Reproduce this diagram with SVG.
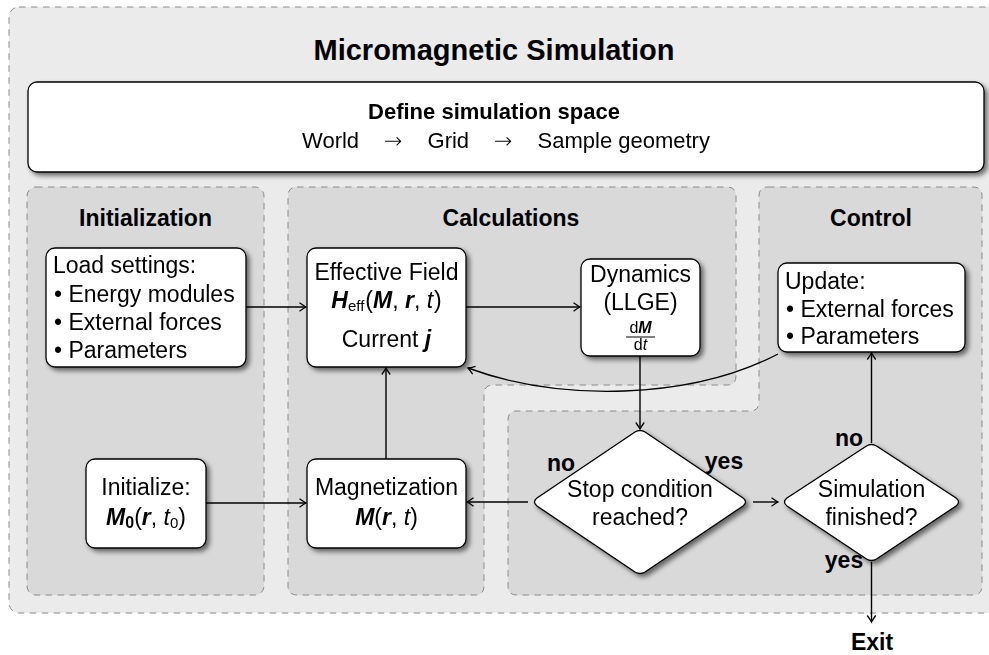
<svg xmlns="http://www.w3.org/2000/svg" width="989" height="655" viewBox="0 0 989 655">
<style>
text{font-family:"Liberation Sans",Arial,Helvetica,sans-serif;fill:#000}
.t{font-size:23px}
.b{font-weight:bold}
.c{text-anchor:middle}
.panel{fill:#d9d9d9;stroke:#8a8a8a;stroke-width:1;stroke-dasharray:6.5 5.5}
.outer{fill:#ebebeb;stroke:#8a8a8a;stroke-width:1;stroke-dasharray:6.5 5.5}
.node{fill:#fff;stroke:#000;stroke-width:1.3}
.bi{font-weight:bold;font-style:italic}
.it{font-style:italic}
.ar{font-family:"DejaVu Sans",sans-serif;font-weight:200}
.con{fill:none;stroke:#000;stroke-width:1.4}
</style>
<defs>
<filter id="sh" x="-20%" y="-20%" width="150%" height="150%">
<feGaussianBlur in="SourceAlpha" stdDeviation="2.5"/>
<feOffset dx="3" dy="3" result="o"/>
<feComponentTransfer><feFuncA type="linear" slope="0.55"/></feComponentTransfer>
<feMerge><feMergeNode/><feMergeNode in="SourceGraphic"/></feMerge>
</filter>
<marker id="ah" viewBox="-8 -6 10 12" refX="0" refY="0" markerWidth="10" markerHeight="12" orient="auto" markerUnits="userSpaceOnUse">
<path d="M-6.5,-4.2 Q-2,-1 0,0 Q-2,1 -6.5,4.2" fill="none" stroke="#000" stroke-width="1.3"/>
</marker>
</defs>

<g id="background">
<rect class="outer" x="9" y="7" width="992" height="606" rx="10"/>
<text class="b c" x="494" y="60" font-size="29">Micromagnetic Simulation</text>
</g>

<g id="panel-init">
<rect class="panel" x="27" y="187" width="237" height="408" rx="9"/>
<text class="t b c" x="145.5" y="226">Initialization</text>
</g>
<g id="panel-calc">
<path class="panel" d="M297,187 H727 Q736,187 736,196 V376 Q736,385 727,385 H493 Q484,385 484,394 V586 Q484,595 475,595 H297 Q288,595 288,586 V196 Q288,187 297,187 Z"/>
<text class="t b c" x="511" y="226">Calculations</text>
</g>
<g id="panel-control">
<path class="panel" d="M768,187 H973 Q982,187 982,196 V586 Q982,595 973,595 H517 Q508,595 508,586 V420 Q508,411 517,411 H750 Q759,411 759,402 V196 Q759,187 768,187 Z"/>
<text class="t b c" x="871" y="226">Control</text>
</g>

<g id="node-define" filter="url(#sh)">
<rect class="node" x="28" y="82" width="956" height="90" rx="9"/>
<text class="b c" x="494" y="119" font-size="22">Define simulation space</text>
<text class="c" x="506" y="148" font-size="22">World<tspan class="ar" dx="25">→</tspan><tspan dx="25">Grid</tspan><tspan class="ar" dx="25">→</tspan><tspan dx="25">Sample geometry</tspan></text>
</g>

<g id="node-load" filter="url(#sh)">
<rect class="node" x="46" y="248" width="200" height="119" rx="9"/>
<text class="t" x="53" y="273">Load settings:</text>
<text class="t" x="54" y="302">• Energy modules</text>
<text class="t" x="54" y="330">• External forces</text>
<text class="t" x="54" y="358">• Parameters</text>
</g>

<g id="node-field" filter="url(#sh)">
<rect class="node" x="307" y="248" width="159" height="119" rx="9"/>
<text class="t c" x="386.5" y="280">Effective Field</text>
<text class="t c" x="386.5" y="308"><tspan class="bi">H</tspan><tspan font-size="15" dy="3">eff</tspan><tspan dy="-3" dx="1">(</tspan><tspan class="bi">M</tspan>, <tspan class="bi">r</tspan>, <tspan class="it">t</tspan><tspan dx="1">)</tspan></text>
<text class="t c" x="386.5" y="347">Current <tspan class="bi">j</tspan></text>
</g>

<g id="node-dynamics" filter="url(#sh)">
<rect class="node" x="581" y="259" width="119" height="97" rx="9"/>
<text class="t c" x="640.5" y="282">Dynamics</text>
<text class="t c" x="640.5" y="310">(LLGE)</text>
<text class="c" x="640.5" y="333" font-size="16">d<tspan class="bi">M</tspan></text>
<line x1="626" y1="337" x2="655" y2="337" stroke="#000" stroke-width="1"/>
<text class="c" x="640.5" y="350" font-size="16">d<tspan class="it">t</tspan></text>
</g>

<g id="node-update" filter="url(#sh)">
<rect class="node" x="778" y="263" width="187" height="89" rx="9"/>
<text class="t" x="785" y="289">Update:</text>
<text class="t" x="786" y="317">• External forces</text>
<text class="t" x="786" y="344">• Parameters</text>
</g>

<g id="node-init" filter="url(#sh)">
<rect class="node" x="86" y="459" width="120" height="89" rx="9"/>
<text class="t c" x="146" y="495">Initialize:</text>
<text class="t c" x="146" y="525"><tspan class="bi">M</tspan><tspan class="b" font-size="16" dy="3">0</tspan><tspan dy="-3">(</tspan><tspan class="bi">r</tspan>, <tspan class="it">t</tspan><tspan font-size="15" dy="3">0</tspan><tspan dy="-3">)</tspan></text>
</g>

<g id="node-magnetization" filter="url(#sh)">
<rect class="node" x="307" y="459" width="159" height="89" rx="9"/>
<text class="t c" x="386.5" y="495">Magnetization</text>
<text class="t c" x="386.5" y="525"><tspan class="bi">M</tspan>(<tspan class="bi">r</tspan>, <tspan class="it">t</tspan>)</text>
</g>

<g id="node-stop" filter="url(#sh)">
<path class="node" d="M635,432 Q640,429 645,432 L743,498 Q748,502 743,506 L645,572 Q640,575 635,572 L537,506 Q532,502 537,498 Z"/>
<text class="t c" x="640" y="497">Stop condition</text>
<text class="t c" x="640" y="525">reached?</text>
</g>

<g id="node-finished" filter="url(#sh)">
<path class="node" d="M866.5,446 Q871.5,443 876.5,446 L956,498 Q961,502 956,506 L876.5,559 Q871.5,562 866.5,559 L787,506 Q782,502 787,498 Z"/>
<text class="t c" x="871.5" y="497">Simulation</text>
<text class="t c" x="871.5" y="525">finished?</text>
</g>

<g id="connectors">
<path class="con" d="M246,307 H306" marker-end="url(#ah)"/>
<path class="con" d="M466,307 H580" marker-end="url(#ah)"/>
<path class="con" d="M640,356 V429" marker-end="url(#ah)"/>
<path class="con" d="M206,503 H306" marker-end="url(#ah)"/>
<path class="con" d="M528,502 H467" marker-end="url(#ah)"/>
<path class="con" d="M753,502 H778" marker-end="url(#ah)"/>
<path class="con" d="M871.5,443 V353" marker-end="url(#ah)"/>
<path class="con" d="M871.5,562 V622" marker-end="url(#ah)"/>
<path class="con" d="M386,459 V368" marker-end="url(#ah)"/>
<path class="con" d="M778,354 C690,400 560,402 468,368" marker-end="url(#ah)"/>
</g>

<g id="labels">
<text class="t b c" x="561" y="471">no</text>
<text class="t b c" x="724" y="469">yes</text>
<text class="t b c" x="849" y="446">no</text>
<text class="t b c" x="844" y="568">yes</text>
<text class="t b c" x="872" y="650">Exit</text>
</g>
</svg>
